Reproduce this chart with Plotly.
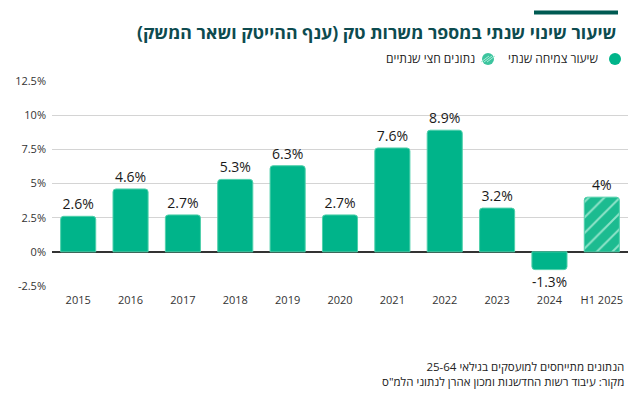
import plotly.graph_objects as go

categories = ["2015", "2016", "2017", "2018", "2019", "2020", "2021", "2022", "2023", "2024", "H1 2025"]
values = [2.6, 4.6, 2.7, 5.3, 6.3, 2.7, 7.6, 8.9, 3.2, -1.3, 4.0]
value_labels = ["2.6%", "4.6%", "2.7%", "5.3%", "6.3%", "2.7%", "7.6%", "8.9%", "3.2%", "-1.3%", "4%"]
tick_vals = [-2.5, 0, 2.5, 5, 7.5, 10, 12.5]
tick_text = ["-2.5%", "0%", "2.5%", "5%", "7.5%", "10%", "12.5%"]
half_year = [False] * 10 + [True]

title = "שיעור שינוי שנתי במספר משרות טק (ענף ההייטק ושאר המשק)"
legend_full = "שיעור צמיחה שנתי"
legend_half = "נתונים חצי שנתיים"
note1 = "הנתונים מתייחסים למועסקים בגילאי 25-64"
note2 = "מקור: עיבוד רשות החדשנות ומכון אהרן לנתוני הלמ\"ס"

GREEN = "#00b48a"
FONT = "Open Sans, Liberation Sans, DejaVu Sans, sans-serif"

W, H = 636, 398
L, R, T, B = 52, 8, 81, 112
pw, ph = W - L - R, H - T - B


def px(x):
    return (x - L) / pw


def py(y):
    return (H - B - y) / ph


full_x = [c for c, h in zip(categories, half_year) if not h]
full_y = [v for v, h in zip(values, half_year) if not h]
full_t = [t for t, h in zip(value_labels, half_year) if not h]
half_x = [c for c, h in zip(categories, half_year) if h]
half_y = [v for v, h in zip(values, half_year) if h]
half_t = [t for t, h in zip(value_labels, half_year) if h]

label_font = dict(size=14, color="#1a1a1a", family=FONT)

fig = go.Figure()
fig.add_trace(go.Bar(
    x=full_x, y=full_y, text=full_t, textposition="outside",
    textfont=label_font,
    marker=dict(color=GREEN, cornerradius=3, line=dict(color="#4fd0ab", width=1)),
    cliponaxis=False, showlegend=False, hoverinfo="skip",
))
fig.add_trace(go.Bar(
    x=half_x, y=half_y, text=half_t, textposition="outside",
    textfont=label_font,
    marker=dict(color=GREEN, cornerradius=3, line=dict(color="#4fd0ab", width=1),
                pattern=dict(shape="/", bgcolor="#1cbb90", fgcolor="#8fe3c9",
                             size=11, solidity=0.18, fillmode="replace")),
    cliponaxis=False, showlegend=False, hoverinfo="skip",
))

fig.update_layout(
    width=W, height=H,
    margin=dict(l=L, r=R, t=T, b=B),
    paper_bgcolor="white", plot_bgcolor="white",
    bargap=0.33, barmode="overlay",
    font=dict(family=FONT, size=11, color="#333333"),
    xaxis=dict(categoryorder="array", categoryarray=categories, showgrid=False,
               showline=False, ticks="", ticklabelstandoff=6,
               tickfont=dict(size=11, color="#333333")),
    yaxis=dict(range=[-2.5, 12.5], tickvals=tick_vals, ticktext=tick_text,
               showgrid=True, gridcolor="#d4d4d4", gridwidth=1,
               zeroline=True, zerolinecolor="#333333", zerolinewidth=1.5,
               showline=False, ticks="", ticklabelstandoff=5,
               tickfont=dict(size=11, color="#333333")),
    showlegend=False,
)

# top accent line
fig.add_shape(type="line", xref="paper", yref="paper",
              x0=px(534), x1=px(618), y0=py(12.5), y1=py(12.5),
              line=dict(color="#005a52", width=4))

# title
fig.add_annotation(text="<b>" + title + "</b>", xref="paper", yref="paper",
                   x=px(135), y=py(32), xanchor="left", yanchor="middle",
                   showarrow=False, font=dict(size=17.7, color="#0d4b4f", family=FONT))

# legend
fig.add_shape(type="circle", xref="paper", yref="paper",
              x0=px(609), x1=px(621), y0=py(53), y1=py(65),
              fillcolor=GREEN, line=dict(width=0))
fig.add_annotation(text=legend_full, xref="paper", yref="paper",
                   x=px(600), y=py(59), xanchor="right", yanchor="middle",
                   showarrow=False, font=dict(size=12, color="#222222", family=FONT))
fig.add_shape(type="circle", xref="paper", yref="paper",
              x0=px(482), x1=px(494), y0=py(53), y1=py(65),
              fillcolor="#3cc49e", line=dict(width=0))
for d in (-3, 0, 3):
    fig.add_shape(type="line", xref="paper", yref="paper",
                  x0=px(484 + d), x1=px(492 + d), y0=py(62), y1=py(56),
                  line=dict(color="#a8ecd6", width=1))
fig.add_annotation(text=legend_half, xref="paper", yref="paper",
                   x=px(477), y=py(59), xanchor="right", yanchor="middle",
                   showarrow=False, font=dict(size=12, color="#222222", family=FONT))

# notes
fig.add_annotation(text=note1 + "<br>" + note2, xref="paper", yref="paper",
                   x=px(626), y=py(374), xanchor="right", yanchor="middle", align="right",
                   showarrow=False, font=dict(size=11.5, color="#222222", family=FONT))

fig.write_html("out.html", config={"displayModeBar": False},
               post_script="document.body.style.margin='0';document.body.style.overflow='hidden';")
